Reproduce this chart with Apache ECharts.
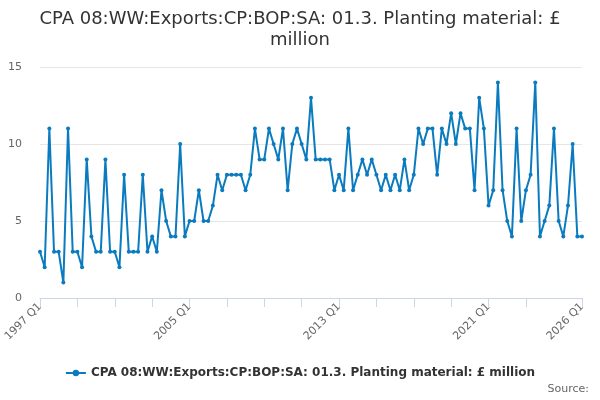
<!DOCTYPE html>
<html>
<head>
<meta charset="utf-8">
<script src="https://cdn.jsdelivr.net/npm/echarts@6/dist/echarts.min.js"></script>
<style>
html,body{margin:0;padding:0;background:#fff;}
#chart{width:600px;height:400px;}
</style>
</head>
<body>
<div id="chart"></div>
<script>
var titleText = 'CPA 08:WW:Exports:CP:BOP:SA: 01.3. Planting material: £\nmillion';
var seriesName = 'CPA 08:WW:Exports:CP:BOP:SA: 01.3. Planting material: £ million';
var startYear = 1997;
var endYear = 2026;
var labelCategories = ['1997 Q1', '2005 Q1', '2013 Q1', '2021 Q1', '2026 Q1'];
var values = [
  3, 2, 11, 3, 3, 1, 11, 3, 3, 2, 9, 4, 3, 3, 9, 3, 3, 2, 8, 3,
  3, 3, 8, 3, 4, 3, 7, 5, 4, 4, 10, 4, 5, 5, 7, 5, 5, 6, 8, 7,
  8, 8, 8, 8, 7, 8, 11, 9, 9, 11, 10, 9, 11, 7, 10, 11, 10, 9, 13, 9,
  9, 9, 9, 7, 8, 7, 11, 7, 8, 9, 8, 9, 8, 7, 8, 7, 8, 7, 9, 7,
  8, 11, 10, 11, 11, 8, 11, 10, 12, 10, 12, 11, 11, 7, 13, 11, 6, 7, 14, 7,
  5, 4, 11, 5, 7, 8, 14, 4, 5, 6, 11, 5, 4, 6, 10, 4, 4
];
var yTicks = [0, 5, 10, 15];

var categories = [];
for (var y = startYear; y <= endYear; y++) {
  for (var q = 1; q <= 4; q++) {
    categories.push(y + ' Q' + q);
  }
}
categories = categories.slice(0, values.length);

var chart = echarts.init(document.getElementById('chart'), null, {renderer: 'canvas'});
var lastIdx = categories.length - 1;
var color = '#0b7bbf';
var font = 'DejaVu Sans';

chart.setOption({
  animation: false,
  textStyle: {fontFamily: font},
  title: {
    text: titleText,
    left: 'center',
    top: 4,
    textStyle: {fontFamily: font, fontSize: 18, fontWeight: 'normal', color: '#333333', lineHeight: 21},
  },
  grid: {left: 40, right: 18, top: 67, bottom: 102, containLabel: false},
  legend: {
    bottom: 16,
    left: 'center',
    itemWidth: 20,
    itemHeight: 8,
    itemGap: 10,
    textStyle: {fontFamily: font, fontSize: 12, fontWeight: 'bold', color: '#333333'},
    data: [seriesName]
  },
  graphic: [{
    type: 'text',
    right: 11,
    bottom: 5,
    style: {text: 'Source:', fill: '#666666', font: '11px "DejaVu Sans"'}
  }],
  xAxis: {
    type: 'category',
    data: categories,
    boundaryGap: false,
    axisLine: {lineStyle: {color: '#ccd6eb', width: 1}},
    axisTick: {
      show: true,
      length: 9,
      lineStyle: {color: '#ccd6eb'},
      interval: function (idx) {
        return (idx % 8 === 0 && idx !== 112) || idx === lastIdx;
      }
    },
    axisLabel: {
      rotate: 45,
      color: '#666666',
      fontSize: 11,
      fontFamily: font,
      margin: 7,
      interval: function (idx, val) {
        return labelCategories.indexOf(val) >= 0;
      }
    },
    splitLine: {show: false}
  },
  yAxis: {
    type: 'value',
    min: yTicks[0],
    max: yTicks[yTicks.length - 1],
    interval: 5,
    axisLine: {show: false},
    axisTick: {show: false},
    axisLabel: {color: '#666666', fontSize: 11, fontFamily: font, margin: 18},
    splitLine: {lineStyle: {color: '#e6e6e6', width: 1}}
  },
  series: [{
    name: seriesName,
    type: 'line',
    data: values,
    color: color,
    symbol: 'circle',
    symbolSize: 4,
    showAllSymbol: true,
    lineStyle: {width: 2, color: color},
    itemStyle: {color: color}
  }]
});
</script>
</body>
</html>
